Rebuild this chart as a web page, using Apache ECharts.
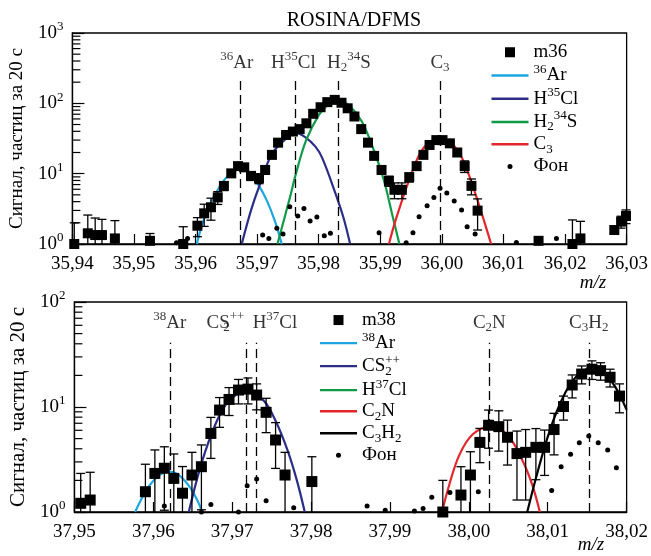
<!DOCTYPE html>
<html><head><meta charset="utf-8">
<script src="https://cdn.jsdelivr.net/npm/echarts@6/dist/echarts.min.js"></script>
<style>html,body{margin:0;padding:0;background:#fff}#c{width:651px;height:556px}</style>
</head><body><div id="c"></div>
<script>
// ================= DATA: top panel (m/z 36) =================
const m36X = [35.9403,35.9425,35.9437,35.9448,35.9469,35.9526,35.9580,35.9603,35.9614,35.9625,35.9636,35.9646,35.9658,35.9669,35.9679,35.9690,35.9703,35.9713,35.9724,35.9734,35.9747,35.9758,35.9769,35.9780,35.9791,35.9803,35.9814,35.9826,35.9837,35.9847,35.9858,35.9869,35.9880,35.9890,35.9902,35.9914,35.9923,35.9935,35.9947,35.9959,35.9970,35.9980,35.9991,36.0001,36.0013,36.0025,36.0037,36.0048,36.0058,36.0157,36.0212,36.0225,36.0280,36.0291,36.0299];
const m36Y = [1.0,1.42,1.34,1.34,1.2,1.11,1.0,1.82,2.73,3.33,4.6,6.7,10.1,12.8,12.3,9.3,8.6,11.3,18.5,27.6,35.5,39.7,43,52,71,88,104,112,102,85,65,43,27.6,17.9,11.3,7.9,5.9,5.9,8.9,12.8,18.5,25.6,30,30,27,20,12.8,6.7,2.98,1.11,1.0,1.2,1.58,2.08,2.5];
const m36Err = [1.0,1.16,1.0,0.9,0.95,0.3,0.76,0.55,0.95,1.15,0.95,0.95,1.2,1.5,1.4,1.3,1.4,1.5,1.8,2.2,2.5,2.6,2.7,3,3.5,4,4.3,4.5,4.3,4,3.4,2.8,2.2,1.8,1.4,1.3,1.5,1.5,1.3,1.5,1.8,2.1,2.3,2.3,2.2,2.1,2.4,1.7,1.4,0,1.2,0.9,0.2,0.4,0.55];
const bg36X = [35.9569,35.9575,35.9587,35.9709,35.9719,35.9732,35.9742,35.9753,35.9766,35.9776,35.9786,35.9797,35.9809,35.9819,35.9898,35.9942,35.9953,35.9963,35.9976,35.9987,35.9997,36.0008,36.0020,36.0032,36.0041,36.0054,36.0121,36.0186];
const bg36Y = [1.04,1.08,1.2,1.34,1.2,1.67,1.39,3.39,2.5,3.2,2.12,2.42,1.31,1.42,1.45,1.04,1.45,2.45,3.5,4.6,6.2,5.3,4.1,3.05,1.76,1.39,1.05,1.2];
const ar36FitX = [35.9602,35.9610,35.9623,35.9637,35.9652,35.9671,35.9687,35.9703,35.9716,35.9729,35.9740];
const ar36FitY = [1.0,1.8,3.6,6.1,9.2,11.5,10.3,6.7,4.1,2.1,1.0];
const h35clFitX = [35.9675,35.9690,35.9703,35.9724,35.9748,35.9763,35.9778,35.9795,35.9806,35.9827,35.9840,35.9851];
const h35clFitY = [1.0,3.0,6.5,19,32,38,33,24,16.5,5.3,2.4,1.0];
const h234sFitX = [35.9733,35.9753,35.9763,35.9779,35.9800,35.9815,35.9832,35.9850,35.9870,35.9890,35.9906,35.9919,35.9931];
const h234sFitY = [1.0,4.5,10,29,68,95,110,92,55,21,8,2.7,1.0];
const c3FitX = [35.9914,35.9925,35.9946,35.9964,35.9980,35.9997,36.0014,36.0033,36.0054,36.0068,36.0080];
const c3FitY = [1.0,2.2,7.8,19,28,31,28,16.5,5.3,2.2,1.0];
const peaks36Names = ['36Ar','H35Cl','H234S','C3'];
const peaks36X = [35.9672,35.9762,35.9831,35.9997];
const xTicks36 = [35.94, 36.03];       // axis range (min, max)
const yRange36 = [1, 1000];

// ================= DATA: bottom panel (m/z 38) =================
const m38X = [37.9508,37.9520,37.9590,37.9602,37.9614,37.9626,37.9637,37.9649,37.9661,37.9673,37.9684,37.9696,37.9708,37.9720,37.9731,37.9743,37.9755,37.9767,37.9801,37.9967,37.9990,38.0002,38.0014,38.0025,38.0038,38.0049,38.0061,38.0072,38.0085,38.0096,38.0108,38.0120,38.0131,38.0143,38.0156,38.0167,38.0179,38.0191];
const m38Y = [1.21,1.30,1.56,2.33,2.61,2.09,1.51,2.25,2.7,5.6,9.35,11.8,14.5,14.8,13.0,8.9,4.85,2.25,1.95,1.0,1.45,2.25,4.6,6.7,6.5,5.15,3.6,3.7,4.13,4.13,6.1,10.1,16.2,20.6,22.9,22.2,19.2,12.7];
const m38Err = [1.12,1.09,1.29,1.57,1.57,1.48,1.2,1.45,1.65,2.36,2.95,3.5,3.8,4.1,3.6,3.2,2.25,1.45,1.41,1.0,1.25,1.5,1.65,2.65,2.7,2.35,2.3,2.4,2.1,1.9,2.6,2.6,4,4,4.6,4.2,3.7,3.9];
const bg38X = [37.9614,37.9661,37.9673,37.9708,37.9719,37.9731,37.9743,37.9778,37.9871,37.9894,37.9931,37.9942,37.9953,37.9976,38.0012,38.0105,38.0117,38.0129,38.0140,38.0152,38.0164,38.0176,38.0187];
const bg38Y = [1.14,1.0,1.18,1.0,1.78,2.06,1.28,1.1,1.14,1.04,1.02,1.08,1.38,1.53,1.56,1.6,2.7,3.55,4.57,5.3,4.57,3.9,2.64];
const ar38FitX = [37.9577,37.9585,37.9595,37.9608,37.9620,37.9632,37.9645,37.9655,37.9662];
const ar38FitY = [1.0,1.33,1.78,2.26,2.42,2.26,1.78,1.33,1.0];
const cs2FitX = [37.9645,37.9655,37.9665,37.9680,37.9695,37.9718,37.9740,37.9755,37.9770,37.9782,37.9792];
const cs2FitY = [1.0,2.0,3.6,7.2,11.2,14.5,11.5,7.4,3.9,2.0,1.0];
const h37clFitX = [];
const h37clFitY = [];
const c2nFitX = [37.9966,37.9975,37.9988,38.0005,38.0028,38.0050,38.0068,38.0080,38.0090];
const c2nFitY = [1.0,1.8,3.5,5.5,6.5,5.3,3.1,1.85,1.0];
const c3h2FitX = [38.0074,38.0085,38.0100,38.0115,38.0130,38.0145,38.0156,38.0170,38.0185,38.0200];
const c3h2FitY = [1.0,2.1,5.2,10.5,17.2,22.2,23.5,21.4,15.8,9.4];
const peaks38Names = ['38Ar','CS2++','H37Cl','C2N','C3H2'];
const peaks38X = [37.9621,37.9718,37.9731,38.0026,38.0152];
const xTicks38 = [37.95, 38.02];
const yRange38 = [1, 100];

// ================= STYLE / LAYOUT =================
const SERIF = 'Liberation Serif';
const COL = {ar:'#1ba6df', hcl:'#2c2e86', h2s:'#0f9a48', red:'#e2262b', blk:'#000'};
const LABELS = {
  'm36':'m36','36Ar':'{sup|36}Ar','H35Cl':'H{sup|35}Cl','H234S':'H{sub|2}{sup|34}S','C3':'C{sub|3}','Фон':'Фон',
  'm38':'m38','38Ar':'{sup|38}Ar','CS2++':'CS{subz|2}{sup|++}','H37Cl':'H{sup|37}Cl','C2N':'C{sub|2}N','C3H2':'C{sub|3}H{sub|2}'
};
function richSet(fs) {
  return {
    sup: {fontFamily: SERIF, fontSize: fs, color:'#000', padding:[0,0,12,0]},
    sub: {fontFamily: SERIF, fontSize: fs, color:'#000', padding:[10,0,0,0]},
    subz:{fontFamily: SERIF, fontSize: fs, color:'#000', padding:[10,0,0,0], width:0}
  };
}
const zip = (xs, ys) => xs.map((x,i)=>[x, ys[i]]);
const SQ = 'path://M0,0h10v10h-10z';
const DOT = 'path://M0,0M12,12M3,6a3,3 0 1,0 6,0a3,3 0 1,0 -6,0';
const LINEICON = 'path://M0,0h37v2.4h-37z';

function fitLine(name, xs, ys, color, gi) {
  return {type:'line', name, xAxisIndex:gi, yAxisIndex:gi, data: zip(xs, ys), smooth:0.35,
    symbol:'none', lineStyle:{color, width:2.2}, itemStyle:{color}, silent:true, z:2};
}
function errSeries(xs, ys, es, gi, yMin) {
  return {type:'custom', xAxisIndex:gi, yAxisIndex:gi, silent:true, z:3,
    data: xs.map((x,i)=>[x, ys[i], es[i]]),
    renderItem: function (p, api) {
      const x = api.value(0), y = api.value(1), e = api.value(2);
      if (!(e > 0)) return null;
      const hi = api.coord([x, y + e]);
      const lo = api.coord([x, Math.max(y - e, yMin)]);
      const st = {stroke:'#000', lineWidth:1.3};
      const ch = [
        {type:'line', shape:{x1:hi[0], y1:hi[1], x2:lo[0], y2:lo[1]}, style:st},
        {type:'line', shape:{x1:hi[0]-4.5, y1:hi[1], x2:hi[0]+4.5, y2:hi[1]}, style:st}
      ];
      if (y - e > yMin) ch.push({type:'line', shape:{x1:lo[0]-4.5, y1:lo[1], x2:lo[0]+4.5, y2:lo[1]}, style:st});
      return {type:'group', children: ch};
    }};
}
function minorTicks(gi, xMin, yMax) {
  const vals = [];
  for (let d = 1; d < yMax; d *= 10) for (let k = 2; k <= 9; k++) vals.push([xMin, k*d]);
  return {type:'custom', xAxisIndex:gi, yAxisIndex:gi, silent:true, data: vals, z:5,
    renderItem: function (p, api) {
      const pt = api.coord([api.value(0), api.value(1)]);
      return {type:'line', shape:{x1:pt[0], y1:pt[1], x2:pt[0]+8, y2:pt[1]}, style:{stroke:'#000', lineWidth:1.2}};
    }};
}
function peakSeries(names, xs, gi, labelY, dashTop, labelOpts) {
  return {type:'scatter', name:'peaks'+gi, xAxisIndex:gi, yAxisIndex:gi, symbolSize:0, silent:true, z:4,
    data: names.map((n,i)=>Object.assign({name:n, value:[xs[i], labelY]}, labelOpts[n] ? {label: labelOpts[n]} : {})),
    label:{show:true, position:'inside', color:'#000', fontFamily:SERIF, fontSize:19,
      formatter: p => LABELS[p.name], rich: richSet(13)},
    markLine:{silent:true, symbol:['none','none'], label:{show:false}, animation:false,
      lineStyle:{color:'#000', width:1.3, type:[9,5]},
      data: xs.map(x => [{coord:[x, 1]}, {coord:[x, dashTop]}])}
  };
}
function xAxis(gi, range) {
  return {type:'value', gridIndex:gi, min:range[0], max:range[1], interval:0.01,
    axisLine:{lineStyle:{color:'#000', width:1.3}},
    axisTick:{inside:true, length:10, lineStyle:{color:'#000', width:1.2}},
    splitLine:{show:false},
    axisLabel:{margin:11, color:'#000', fontFamily:SERIF, fontSize:19,
      formatter: v => v.toFixed(2).replace('.', ',')}};
}
function yAxis(gi, range, nameSize) {
  return {type:'log', logBase:10, gridIndex:gi, min:range[0], max:range[1],
    name:'Сигнал, частиц за 20 с', nameLocation:'middle', nameGap:41, nameRotate:90,
    nameTextStyle:{color:'#000', fontFamily:SERIF, fontSize:nameSize},
    axisLine:{lineStyle:{color:'#000', width:1.3}},
    axisTick:{inside:true, length:12, lineStyle:{color:'#000', width:1.2}},
    splitLine:{show:false}, minorTick:{show:false},
    axisLabel:{margin:9, color:'#000', fontFamily:SERIF, fontSize:19,
      formatter: v => '10{sup|' + Math.round(Math.log10(v)) + '}',
      rich:{sup:{fontFamily:SERIF, fontSize:13, color:'#000', padding:[0,0,12,0]}}}};
}
function legend(names, left, top, pitch) {
  return {orient:'vertical', left, top, padding:0, itemGap:0, itemWidth:37, itemHeight:10,
    selectedMode:false,
    data: names.map(n => n.startsWith('m3') ? {name:n, icon:SQ} : (n === 'Фон' ? {name:n, icon:DOT} : {name:n, icon:LINEICON})),
    formatter: n => LABELS[n],
    textStyle:{color:'#000', fontFamily:SERIF, fontSize:19, lineHeight:pitch, rich: richSet(13)}};
}

const option = {
  animation:false,
  backgroundColor:'#fff',
  title:{text:'ROSINA/DFMS', left:349, top:6, textAlign:'center',
    textStyle:{fontFamily:SERIF, fontSize:20, fontWeight:'normal', color:'#000'}},
  grid:[
    {left:63, right:19, top:33, height:211, show:true, borderColor:'#000', borderWidth:1.3, backgroundColor:'transparent'},
    {left:63, right:19, top:302, height:210, show:true, borderColor:'#000', borderWidth:1.3, backgroundColor:'transparent'}
  ],
  xAxis:[xAxis(0, xTicks36), xAxis(1, xTicks38)],
  yAxis:[yAxis(0, yRange36, 19), yAxis(1, yRange38, 21)],
  legend:[
    legend(['m36','36Ar','H35Cl','H234S','C3','Фон'], 491.5, 41.5, 21.5),
    legend(['m38','38Ar','CS2++','H37Cl','C2N','C3H2','Фон'], 320, 309.5, 21.1)
  ],
  graphic:[
    {type:'text', x:593, y:283, style:{text:'m/z', font:'italic 19px '+SERIF, fill:'#000', textAlign:'center', textVerticalAlign:'middle'}},
    {type:'text', x:591, y:545, style:{text:'m/z', font:'italic 19px '+SERIF, fill:'#000', textAlign:'center', textVerticalAlign:'middle'}}
  ],
  series:[
    fitLine('36Ar', ar36FitX, ar36FitY, COL.ar, 0),
    fitLine('H35Cl', h35clFitX, h35clFitY, COL.hcl, 0),
    fitLine('H234S', h234sFitX, h234sFitY, COL.h2s, 0),
    fitLine('C3', c3FitX, c3FitY, COL.red, 0),
    {type:'scatter', name:'Фон', xAxisIndex:0, yAxisIndex:0, data: zip(bg36X, bg36Y), symbol:'circle', symbolSize:5, itemStyle:{color:'#000', opacity:1}, silent:true, z:3},
    errSeries(m36X, m36Y, m36Err, 0, yRange36[0]),
    {type:'scatter', name:'m36', xAxisIndex:0, yAxisIndex:0, data: zip(m36X, m36Y), symbol:'rect', symbolSize:10, itemStyle:{color:'#000', opacity:1}, silent:true, z:4},
    peakSeries(peaks36Names, peaks36X, 0, 380, 215, {'H234S': {offset:[11,0]}, '36Ar': {offset:[-3,0]}, 'H35Cl': {offset:[-2,0]}}),
    minorTicks(0, xTicks36[0], yRange36[1]),

    fitLine('38Ar', ar38FitX, ar38FitY, COL.ar, 1),
    fitLine('CS2++', cs2FitX, cs2FitY, COL.hcl, 1),
    fitLine('H37Cl', h37clFitX, h37clFitY, COL.h2s, 1),
    fitLine('C2N', c2nFitX, c2nFitY, COL.red, 1),
    fitLine('C3H2', c3h2FitX, c3h2FitY, COL.blk, 1),
    {type:'scatter', name:'Фон', xAxisIndex:1, yAxisIndex:1, data: zip(bg38X, bg38Y), symbol:'circle', symbolSize:5, itemStyle:{color:'#000', opacity:1}, silent:true, z:3},
    errSeries(m38X, m38Y, m38Err, 1, yRange38[0]),
    {type:'scatter', name:'m38', xAxisIndex:1, yAxisIndex:1, data: zip(m38X, m38Y), symbol:'rect', symbolSize:11, itemStyle:{color:'#000', opacity:1}, silent:true, z:4},
    peakSeries(peaks38Names, peaks38X, 1, 63, 41, {'CS2++': {align:'right', offset:[-2,0]}, 'H37Cl': {align:'left', offset:[-4,0]}}),
    minorTicks(1, xTicks38[0], yRange38[1])
  ]
};
const chart = echarts.init(document.getElementById('c'), null, {renderer:'canvas'});
chart.setOption(option);
</script>
</body></html>
